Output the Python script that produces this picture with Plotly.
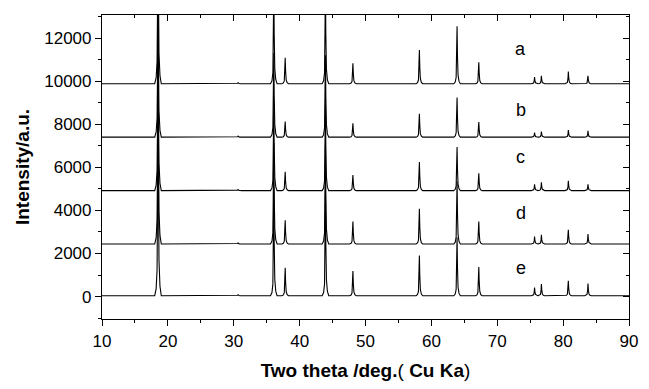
import plotly.graph_objects as go

# ---- data ----
SAMPLES = ["a", "b", "c", "d", "e"]
OFFSETS = [9880, 7400, 4920, 2440, 40]          # baseline of each pattern
PEAK_POS = [18.5, 30.66, 36.08, 37.81, 43.92, 48.09, 58.18, 63.9, 67.2, 75.66, 76.7, 80.79, 83.77]
HEIGHTS = {
    "a": [9500, 50, 4600, 1200, 4500, 950, 1560, 2670, 1000, 310, 370, 570, 370],
    "b": [8000, 50, 3900, 720, 3800, 640, 1090, 1840, 700, 215, 260, 335, 290],
    "c": [8500, 50, 4100, 870, 4000, 720, 1330, 2020, 800, 290, 380, 460, 290],
    "d": [10000, 50, 4700, 1100, 4600, 1040, 1640, 2900, 1040, 350, 430, 660, 460],
    "e": [11000, 50, 5000, 1300, 4900, 1150, 1870, 2700, 1330, 380, 540, 690, 570],
}
# peak profile (offset in degrees, fraction of peak height)
PROFILE_DX = [-0.5, -0.28, -0.14, -0.05, 0.0, 0.06, 0.15, 0.3, 0.5]
PROFILE_FR = [0.0, 0.03, 0.11, 0.45, 1.0, 0.5, 0.15, 0.04, 0.0]
LABEL_X = 73.6
LABEL_Y = [11510, 8640, 6500, 3870, 1330]
X_RANGE = [10, 90]
Y_RANGE = [-1040, 13070]

FONT = "Liberation Sans, Arial, sans-serif"

fig = go.Figure()
for name, off in zip(SAMPLES, OFFSETS):
    xs = [X_RANGE[0]]
    ys = [off]
    for pos, h in zip(PEAK_POS, HEIGHTS[name]):
        for dx, fr in zip(PROFILE_DX, PROFILE_FR):
            xs.append(pos + dx)
            ys.append(off + h * fr)
    xs.append(X_RANGE[1])
    ys.append(off)
    fig.add_trace(go.Scatter(x=xs, y=ys, mode="lines",
                             line=dict(color="black", width=1.1),
                             showlegend=False, hoverinfo="skip"))

# invisible trace for mirrored axes
fig.add_trace(go.Scatter(x=X_RANGE, y=Y_RANGE, xaxis="x2", yaxis="y2",
                         mode="markers", marker=dict(opacity=0),
                         showlegend=False, hoverinfo="skip"))

for name, ly in zip(SAMPLES, LABEL_Y):
    fig.add_annotation(x=LABEL_X, y=ly, text=name, showarrow=False,
                       font=dict(family=FONT, size=18, color="black"))

fig.update_layout(
    width=649, height=389,
    margin=dict(l=102, r=11, t=15, b=66),
    paper_bgcolor="white", plot_bgcolor="white",
    font=dict(family=FONT, size=17, color="black"),
    xaxis=dict(range=X_RANGE, dtick=10, tick0=10, ticks="outside", ticklen=6,
               tickwidth=1, tickcolor="black", showline=True, linecolor="black",
               linewidth=1.2, showgrid=False, zeroline=False,
               minor=dict(dtick=5, tick0=10, ticks="outside", ticklen=3,
                          tickcolor="black", showgrid=False),
               title=dict(text="<b>Two theta /deg.</b>( <b>Cu Ka</b>)",
                          font=dict(size=19), standoff=14)),
    yaxis=dict(range=Y_RANGE, dtick=2000, tick0=0, ticks="outside", ticklen=6,
               tickformat="d",
               tickwidth=1, tickcolor="black", showline=True, linecolor="black",
               linewidth=1.2, showgrid=False, zeroline=False,
               minor=dict(dtick=1000, tick0=0, ticks="outside", ticklen=3,
                          tickcolor="black", showgrid=False),
               title=dict(text="<b>Intensity/a.u.</b>", font=dict(size=19),
                          standoff=9)),
    xaxis2=dict(range=X_RANGE, overlaying="x", side="top", dtick=10, tick0=10,
                ticks="inside", ticklen=6, tickcolor="black", showticklabels=False,
                showline=True, linecolor="black", linewidth=1.2, showgrid=False,
                zeroline=False,
                minor=dict(dtick=5, tick0=10, ticks="inside", ticklen=3,
                           tickcolor="black", showgrid=False)),
    yaxis2=dict(range=Y_RANGE, overlaying="y", side="right", dtick=2000, tick0=0,
                ticks="inside", ticklen=6, tickcolor="black", showticklabels=False,
                showline=True, linecolor="black", linewidth=1.2, showgrid=False,
                zeroline=False,
                minor=dict(dtick=1000, tick0=0, ticks="inside", ticklen=3,
                           tickcolor="black", showgrid=False)),
)

fig.write_html("out.html")
